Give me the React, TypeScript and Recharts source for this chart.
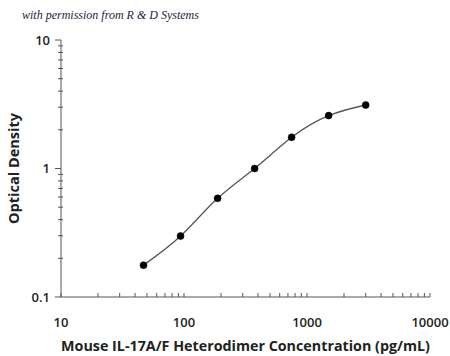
import React from 'react';
import { ComposedChart, Line, XAxis, YAxis } from 'recharts';

const concentrations = [46.875, 93.75, 187.5, 375, 750, 1500, 3000];
const opticalDensity = [0.177, 0.298, 0.586, 1.0, 1.75, 2.58, 3.12];

const xMajorTicks = [10, 100, 1000, 10000];
const xMinorTicks = [20, 30, 40, 50, 60, 70, 80, 90, 200, 300, 400, 500, 600, 700, 800, 900, 2000, 3000, 4000, 5000, 6000, 7000, 8000, 9000];
const yMajorTicks = [0.1, 1, 10];
const yMinorTicks = [0.2, 0.3, 0.4, 0.5, 0.6, 0.7, 0.8, 0.9, 2, 3, 4, 5, 6, 7, 8, 9];

const xTitle = 'Mouse IL-17A/F Heterodimer Concentration (pg/mL)';
const yTitle = 'Optical Density';
const watermark = 'with permission from R & D Systems';

const data = concentrations.map((c, i) => ({ conc: c, od: opticalDensity[i] }));
const xTicks = [...xMajorTicks, ...xMinorTicks].sort((a, b) => a - b);
const yTicks = [...yMajorTicks, ...yMinorTicks].sort((a, b) => a - b);

const FONT = '"Open Sans", "Noto Sans", sans-serif';
const X_MARGIN = 25;
const Y_MARGIN = 11;

const XTick = (props: any) => {
  const { x, y, payload } = props;
  const v = payload.value;
  const major = xMajorTicks.includes(v);
  const axisY = y - X_MARGIN;
  return (
    <g>
      <line x1={x} x2={x} y1={axisY} y2={axisY - 4} stroke="#555" strokeWidth={1} />
      {major && (
        <text x={x} y={y} dy="0.35em" textAnchor="middle" fontFamily={FONT} fontSize={13} fontWeight={600} fill="#222">
          {String(v)}
        </text>
      )}
    </g>
  );
};

const YTick = (props: any) => {
  const { x, y, payload } = props;
  const v = payload.value;
  const major = yMajorTicks.includes(v);
  const axisX = x + Y_MARGIN;
  return (
    <g>
      <line x1={axisX - (major ? 6 : 3)} x2={axisX + (major ? 0 : 2)} y1={y} y2={y} stroke="#555" strokeWidth={1} />
      {major && (
        <text x={x} y={y} dy="0.35em" textAnchor="end" fontFamily={FONT} fontSize={13} fontWeight={600} fill="#222">
          {String(v)}
        </text>
      )}
    </g>
  );
};

export default function App() {
  return (
    <div style={{ position: 'absolute', left: 0, top: 0, width: 450, height: 356, background: '#fff' }}>
      <div
        style={{
          position: 'absolute',
          left: 22,
          top: 8,
          fontFamily: '"Liberation Serif", "DejaVu Serif", serif',
          fontStyle: 'italic',
          fontSize: 12,
          color: '#1c1c40',
          whiteSpace: 'nowrap',
        }}
      >
        {watermark}
      </div>
      <ComposedChart width={450} height={356} data={data} margin={{ top: 40, right: 20, bottom: 0, left: 0 }}>
        <XAxis
          dataKey="conc"
          type="number"
          scale="log"
          domain={[10, 10000]}
          ticks={xTicks}
          interval={0}
          allowDataOverflow
          height={59}
          tickLine={false}
          tickSize={0}
          tickMargin={X_MARGIN}
          tick={XTick}
          axisLine={{ stroke: '#555', strokeWidth: 1 }}
          label={{
            value: xTitle,
            position: 'insideBottom',
            offset: 5,
            style: { fontFamily: FONT, fontSize: 14.3, fontWeight: 700, fill: '#222' },
          }}
        />
        <YAxis
          dataKey="od"
          type="number"
          scale="log"
          domain={[0.1, 10]}
          ticks={yTicks}
          interval={0}
          allowDataOverflow
          width={61}
          tickLine={false}
          tickSize={0}
          tickMargin={Y_MARGIN}
          tick={YTick}
          axisLine={{ stroke: '#555', strokeWidth: 1 }}
          label={{
            value: yTitle,
            angle: -90,
            position: 'insideLeft',
            offset: 14,
            style: { fontFamily: FONT, fontSize: 14.5, fontWeight: 700, fill: '#222', textAnchor: 'middle' },
          }}
        />
        <Line
          type="natural"
          dataKey="od"
          stroke="#555"
          strokeWidth={1.3}
          dot={{ r: 3.5, fill: '#000', stroke: '#000', strokeWidth: 0.5 }}
          activeDot={false}
          isAnimationActive={false}
        />
      </ComposedChart>
    </div>
  );
}
